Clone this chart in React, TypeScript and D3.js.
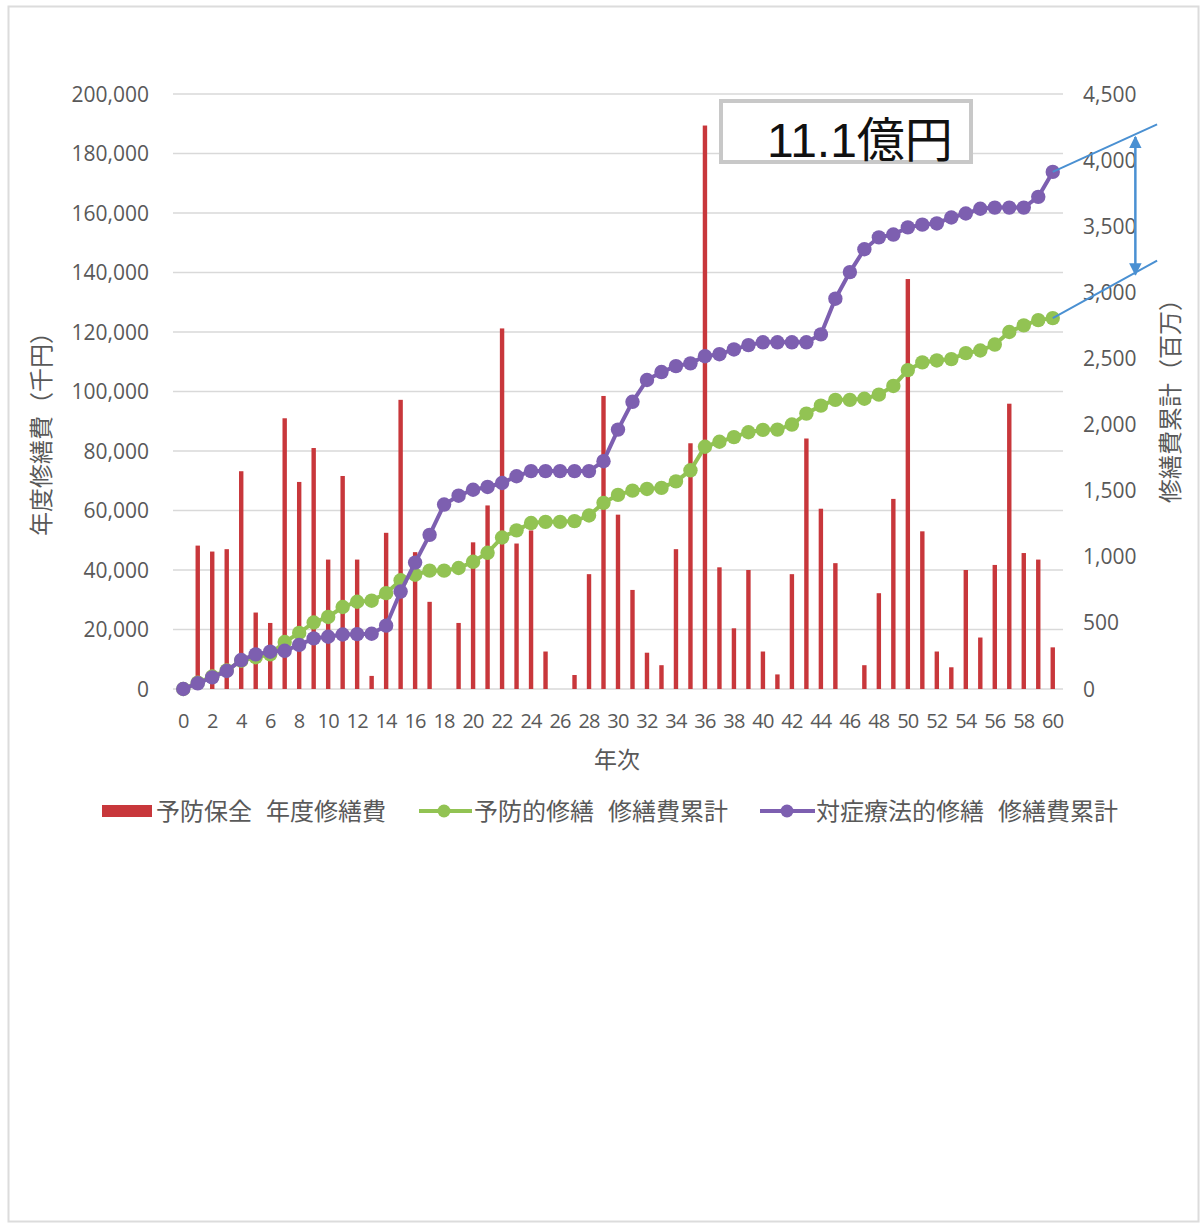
import React from "react";
import * as d3 from "d3";

// ---- data ----
const years: number[] = [
  0, 1, 2, 3, 4, 5, 6, 7, 8, 9, 10, 11, 12, 13, 14, 15, 16, 17, 18, 19, 20,
  21, 22, 23, 24, 25, 26, 27, 28, 29, 30, 31, 32, 33, 34, 35, 36, 37, 38, 39, 40,
  41, 42, 43, 44, 45, 46, 47, 48, 49, 50, 51, 52, 53, 54, 55, 56, 57, 58, 59, 60,
];

// 予防保全 年度修繕費 (千円)
const annualCost: number[] = [
  0, 48200, 46200, 47000, 73200, 25700, 22200, 91000, 69600, 81000, 43500,
  71600, 43500, 4400, 52500, 97200, 46000, 29300, 0, 22200, 49300,
  61700, 121200, 48900, 53300, 12600, 0, 4700, 38600, 98500, 58600,
  33300, 12200, 8000, 47000, 82600, 189400, 40900, 20400, 40000, 12600,
  4900, 38600, 84200, 60600, 42300, 0, 8000, 32200, 63900, 137800,
  53000, 12600, 7300, 40000, 17300, 41700, 95900, 45700, 43500, 14000,
];

// 予防的修繕 修繕費累計 (百万)
const preventiveCum: number[] = [
  0, 48, 94, 141, 214, 240, 262, 355, 424, 503, 545,
  620, 660, 668, 725, 822, 864, 895, 895, 915, 962,
  1030, 1146, 1200, 1255, 1264, 1264, 1270, 1312, 1408, 1468,
  1500, 1513, 1521, 1570, 1654, 1832, 1870, 1905, 1942, 1960,
  1962, 2000, 2083, 2143, 2187, 2187, 2195, 2226, 2292, 2412,
  2470, 2485, 2495, 2540, 2560, 2605, 2700, 2750, 2790, 2805,
];

// 対症療法的修繕 修繕費累計 (百万)
const reactiveCum: number[] = [
  0, 43, 88, 136, 219, 262, 282, 289, 334, 383, 395,
  412, 415, 418, 479, 737, 956, 1166, 1395, 1462, 1507,
  1528, 1558, 1609, 1648, 1648, 1648, 1648, 1648, 1723, 1962,
  2172, 2337, 2397, 2442, 2463, 2517, 2532, 2568, 2601, 2622,
  2622, 2622, 2622, 2682, 2952, 3153, 3326, 3416, 3437, 3491,
  3512, 3521, 3566, 3596, 3632, 3641, 3641, 3641, 3722, 3911,
];

const leftTicks: number[] = [0, 20000, 40000, 60000, 80000, 100000, 120000, 140000, 160000, 180000, 200000];
const rightTicks: number[] = [0, 500, 1000, 1500, 2000, 2500, 3000, 3500, 4000, 4500];
const xTickYears: number[] = [0, 2, 4, 6, 8, 10, 12, 14, 16, 18, 20, 22, 24, 26, 28, 30, 32, 34, 36, 38, 40, 42, 44, 46, 48, 50, 52, 54, 56, 58, 60];

// legend labels: [first word, second word]
const legendLabels: [string, string][] = [
  ["予防保全", "年度修繕費"],
  ["予防的修繕", "修繕費累計"],
  ["対症療法的修繕", "修繕費累計"],
];
const annotationText = "11.1億円";

// annotation bracket, in data units (year, 百万)
const bracketEndYear = 67.2;
const bracketUpperEnd = 4270;
const bracketLowerEnd = 3240;
const arrowYear = 65.7;
const arrowTop = 4175;
const arrowBottom = 3135;

const RED = "#c8373b";
const GREEN = "#92c353";
const PURPLE = "#7d5fb0";
const BLUE = "#4a90d2";
const GRID = "#d9d9d9";
const TXT = "#595959";
const FONT = "'Open Sans', 'Noto Sans CJK JP', sans-serif";
const JFONT = "'Noto Sans CJK JP', sans-serif";

export default function App() {
  const W = 1201;
  const H = 1225;
  const x = d3.scaleBand<number>().domain(years).range([176, 1060]).padding(0);
  const cx = (d: number) => (x(d) as number) + x.bandwidth() / 2;
  const xl = d3.scaleLinear().domain([0, 60]).range([cx(0), cx(60)]);
  const yL = d3.scaleLinear().domain([0, 200000]).range([689, 94]);
  const yR = d3.scaleLinear().domain([0, 4500]).range([689, 94]);
  const fmt = d3.format(",");

  const lineGen = d3
    .line<number>()
    .x((_, i) => cx(years[i]))
    .y((v) => yR(v));

  const x0 = 176;
  const x1 = 1060;

  const legendText = (xPos: number, parts: [string, string]) => (
    <text x={xPos} y={811} dy="0.36em" fontSize={24} fill={TXT} fontFamily={JFONT}>
      <tspan>{parts[0]}</tspan>
      <tspan dx={14}>{parts[1]}</tspan>
    </text>
  );

  return (
    <svg
      width={W}
      height={H}
      viewBox={`0 0 ${W} ${H}`}
      style={{ position: "absolute", left: 0, top: 0, background: "#fff" }}
    >
      <defs>
        <marker id="ah" viewBox="0 0 10 10" refX="9" refY="5" markerWidth="5" markerHeight="5" orient="auto-start-reverse">
          <path d="M0,0 L10,5 L0,10 z" fill={BLUE} />
        </marker>
      </defs>
      <rect x={0} y={0} width={W} height={H} fill="#fff" />
      <rect x={8.5} y={6.5} width={1190} height={1215} fill="none" stroke="#dcdcdc" strokeWidth={2} />

      {/* gridlines */}
      {leftTicks.map((t) => (
        <line key={"g" + t} x1={x0 - 3} x2={x1 + 3} y1={yL(t)} y2={yL(t)} stroke={GRID} strokeWidth={1.5} />
      ))}

      {/* left tick labels */}
      {leftTicks.map((t) => (
        <text key={"l" + t} x={149} y={yL(t)} dy="0.36em" textAnchor="end" fontSize={21} fill={TXT} fontFamily={FONT}>
          {fmt(t)}
        </text>
      ))}
      {/* right tick labels */}
      {rightTicks.map((t) => (
        <text key={"r" + t} x={1083} y={yR(t)} dy="0.36em" textAnchor="start" fontSize={21} fill={TXT} fontFamily={FONT}>
          {fmt(t)}
        </text>
      ))}
      {/* x tick labels */}
      {xTickYears.map((t) => (
        <text key={"x" + t} x={cx(t)} y={721} dy="0.36em" textAnchor="middle" fontSize={20} fill={TXT} fontFamily={FONT} letterSpacing={-0.8}>
          {t}
        </text>
      ))}

      {/* axis titles */}
      <text x={617} y={760} dy="0.36em" textAnchor="middle" fontSize={23} fill={TXT} fontFamily={JFONT}>
        年次
      </text>
      <text transform={`translate(41,428) rotate(-90)`} textAnchor="middle" dy="0.36em" fontSize={24} fill={TXT} fontFamily={JFONT}>
        年度修繕費（千円）
      </text>
      <text transform={`translate(1170,395) rotate(-90)`} textAnchor="middle" dy="0.36em" fontSize={24} fill={TXT} fontFamily={JFONT}>
        修繕費累計（百万）
      </text>

      {/* bars */}
      {annualCost.map((v, i) =>
        v > 0 ? (
          <rect
            key={"b" + i}
            x={cx(years[i]) - 2.2}
            y={yL(v)}
            width={4.4}
            height={yL(0) - yL(v)}
            fill={RED}
          />
        ) : null
      )}

      {/* green line */}
      <path d={lineGen(preventiveCum) || ""} fill="none" stroke={GREEN} strokeWidth={4} />
      {preventiveCum.map((v, i) => (
        <circle key={"gc" + i} cx={cx(years[i])} cy={yR(v)} r={7.2} fill={GREEN} />
      ))}

      {/* purple line */}
      <path d={lineGen(reactiveCum) || ""} fill="none" stroke={PURPLE} strokeWidth={4} />
      {reactiveCum.map((v, i) => (
        <circle key={"pc" + i} cx={cx(years[i])} cy={yR(v)} r={7.2} fill={PURPLE} />
      ))}

      {/* annotation bracket */}
      <line x1={xl(60)} y1={yR(reactiveCum[60])} x2={xl(bracketEndYear)} y2={yR(bracketUpperEnd)} stroke={BLUE} strokeWidth={2} />
      <line x1={xl(60)} y1={yR(preventiveCum[60])} x2={xl(bracketEndYear)} y2={yR(bracketLowerEnd)} stroke={BLUE} strokeWidth={2} />
      <line
        x1={xl(arrowYear)}
        y1={yR(arrowTop)}
        x2={xl(arrowYear)}
        y2={yR(arrowBottom)}
        stroke={BLUE}
        strokeWidth={2.5}
        markerStart="url(#ah)"
        markerEnd="url(#ah)"
      />

      {/* annotation box */}
      <rect x={721} y={101} width={250} height={61} fill="#fff" stroke="#c8c8c8" strokeWidth={4} />
      <text x={767} y={157} fontSize={48} fill="#111" fontFamily="'Liberation Sans', Arial, 'Noto Sans CJK JP', sans-serif">
        {annotationText}
      </text>

      {/* legend */}
      <rect x={102} y={805} width={50} height={12} fill={RED} />
      {legendText(156, legendLabels[0])}
      <line x1={419} x2={472} y1={811} y2={811} stroke={GREEN} strokeWidth={4} />
      <circle cx={444} cy={811} r={6.5} fill={GREEN} />
      {legendText(474, legendLabels[1])}
      <line x1={760} x2={815} y1={811} y2={811} stroke={PURPLE} strokeWidth={4} />
      <circle cx={787} cy={811} r={6.5} fill={PURPLE} />
      {legendText(816, legendLabels[2])}
    </svg>
  );
}
